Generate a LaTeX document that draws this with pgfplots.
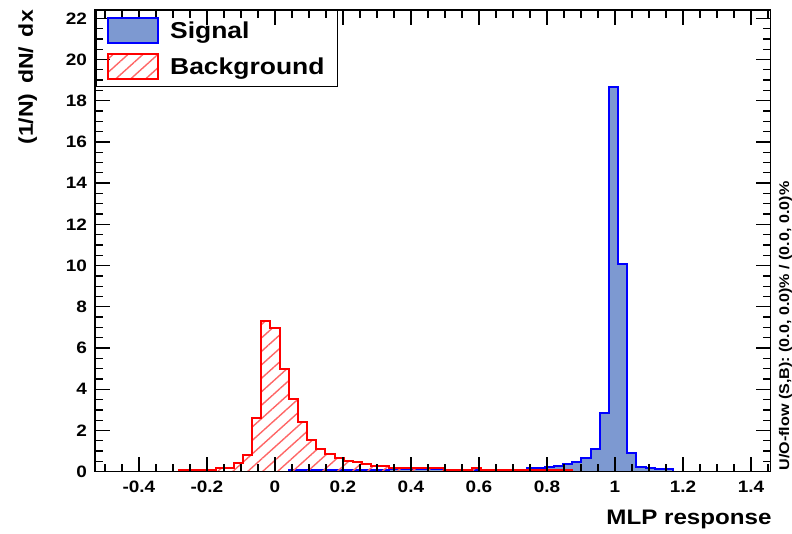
\documentclass[border=0pt]{standalone}
\usepackage{fontspec}
\setmainfont{Liberation Sans}[FakeStretch=1.15]
\usepackage{pgfplots}
\pgfplotsset{compat=1.18}
\usetikzlibrary{patterns.meta}
\definecolor{sigfill}{RGB}{125,153,209}
\definecolor{sigline}{RGB}{0,0,255}
\definecolor{bkgline}{RGB}{255,0,0}
\begin{document}
\begin{tikzpicture}
\useasboundingbox (-95pt,-61.3pt) rectangle (697pt,471.7pt);
\begin{axis}[
  scale only axis, width=675.7pt, height=461.7pt,
  xmin=-0.529, xmax=1.458, ymin=0, ymax=22.4,
  axis on top, clip mode=individual,
  xtick={-0.4,-0.2,0,0.2,0.4,0.6,0.8,1,1.2,1.4},
  xticklabels={-0.4,-0.2,0,0.2,0.4,0.6,0.8,1,1.2,1.4},
  minor xtick={-0.5,-0.45,...,1.46},
  ytick={0,2,4,6,8,10,12,14,16,18,20,22},
  yticklabels={0,2,4,6,8,10,12,14,16,18,20,22},
  minor ytick={0,0.5,...,22.1},
  tick align=inside, major tick length=15pt, minor tick length=8pt,
  tick style={black, line width=1.3pt},
  axis line style={line width=1.5pt},
  tick label style={font=\bfseries\fontsize{16.5}{18}\selectfont},
  xticklabel style={yshift=-6pt},
  yticklabel style={xshift=-4.5pt},
  xlabel={MLP response},
  xlabel style={at={(axis description cs:1.0015,-0.1154)}, anchor=base east, inner sep=0pt, font=\bfseries\fontsize{21}{24}\selectfont},
  ylabel={(1/N)\, dN/\, dx},
  ylabel style={at={(axis description cs:-0.0918,1)}, anchor=base east, inner sep=0pt, font=\bfseries\fontsize{20}{23}\selectfont},
  legend image code/.code={\draw[#1] (0pt,-12.5pt) rectangle (50pt,12.5pt);},
  legend cell align=left,
  legend style={at={(axis description cs:0.001,0.9995)}, anchor=north west, draw=black, line width=1pt, fill=none,
    inner xsep=11pt, inner ysep=6.5pt, row sep=9pt, column sep=9pt,
    font=\bfseries\fontsize{23}{26}\selectfont},
]
\addplot[const plot, draw=sigline, line width=2pt, fill=sigfill] coordinates {
(0.0408,0.06)(0.0677,0.06)(0.0946,0.07)(0.1215,0.06)(0.1484,0.07)(0.1753,0.08)(0.2022,0.08)(0.2291,0.08)(0.2560,0.09)(0.2829,0.09)(0.3098,0.10)(0.3367,0.11)(0.3636,0.11)(0.3905,0.11)(0.4174,0.11)(0.4443,0.11)(0.4712,0.11)(0.4981,0.09)(0.5250,0.09)(0.5519,0.09)(0.5788,0.09)(0.6057,0.09)(0.6326,0.09)(0.6595,0.09)(0.6864,0.09)(0.7133,0.09)(0.7402,0.19)(0.7671,0.19)(0.7940,0.21)(0.8209,0.29)(0.8478,0.37)(0.8747,0.48)(0.9016,0.65)(0.9285,1.10)(0.9554,2.87)(0.9823,18.66)(1.0092,10.10)(1.0361,0.92)(1.0630,0.24)(1.0899,0.20)(1.1168,0.12)(1.1437,0.12)(1.1706,0.12)
} \closedcycle;
\addlegendentry{Signal}
\addplot[const plot, draw=bkgline, line width=2pt, pattern={Lines[angle=42,distance=10pt,line width=1.4pt]}, pattern color=red!60] coordinates {
(-0.2820,0.07)(-0.2551,0.07)(-0.2282,0.08)(-0.2013,0.08)(-0.1744,0.20)(-0.1475,0.20)(-0.1206,0.40)(-0.0937,0.80)(-0.0668,2.60)(-0.0399,7.32)(-0.0130,6.96)(0.0139,4.97)(0.0408,3.51)(0.0677,2.43)(0.0946,1.54)(0.1215,1.09)(0.1484,0.86)(0.1753,0.66)(0.2022,0.52)(0.2291,0.45)(0.2560,0.38)(0.2829,0.28)(0.3098,0.26)(0.3367,0.17)(0.3636,0.17)(0.3905,0.17)(0.4174,0.17)(0.4443,0.17)(0.4712,0.17)(0.4981,0.10)(0.5250,0.10)(0.5519,0.10)(0.5788,0.17)(0.6057,0.10)(0.6326,0.10)(0.6595,0.10)(0.6864,0.10)(0.7133,0.10)(0.7402,0.10)(0.7671,0.10)(0.7940,0.10)(0.8209,0.10)(0.8478,0.10)(0.8747,0.10)
} \closedcycle;
\addlegendentry{Background}
\node[rotate=90, anchor=base west, inner sep=0pt, font=\bfseries\fontsize{14}{16}\selectfont] at (axis description cs:1.0272,0.002) {U/O-flow (S,B): (0.0, 0.0)\% / (0.0, 0.0)\%};
\end{axis}
\end{tikzpicture}
\end{document}
